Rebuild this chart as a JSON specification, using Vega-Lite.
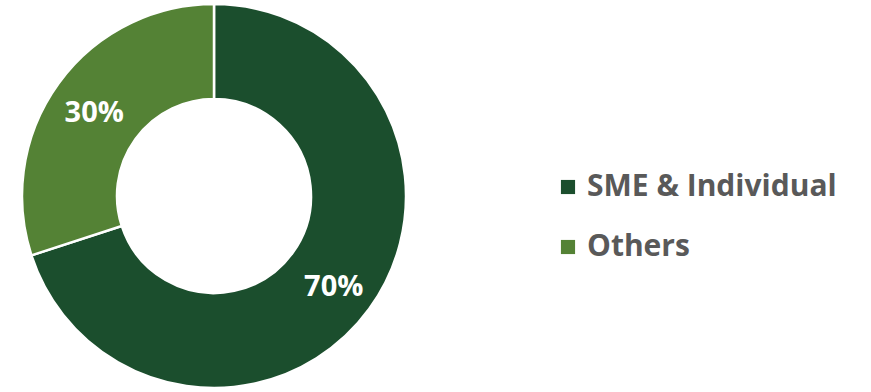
{
  "$schema": "https://vega.github.io/schema/vega-lite/v6.json",
  "width": 428,
  "height": 392,
  "padding": {"left": 0, "top": 0, "bottom": 0, "right": 443},
  "autosize": {"type": "none"},
  "background": "white",
  "config": {"view": {"stroke": null}},
  "data": {"values": [
    {"segment": "SME & Individual", "value": 70, "label": "70%"},
    {"segment": "Others", "value": 30, "label": "30%"}
  ]},
  "encoding": {
    "theta": {"field": "value", "type": "quantitative", "stack": true},
    "order": {"field": "value", "sort": "descending"},
    "color": {
      "field": "segment", "type": "nominal",
      "scale": {"domain": ["SME & Individual", "Others"], "range": ["#1b4e2d", "#548235"]},
      "legend": {
        "title": null, "orient": "none", "legendX": 553, "legendY": 172,
        "symbolType": "square", "symbolSize": 200, "symbolStrokeWidth": 0,
        "labelFont": "Open Sans", "labelFontWeight": "bold", "labelFontSize": 30,
        "labelColor": "#595959", "rowPadding": 30, "labelOffset": 4, "labelLimit": 400
      }
    }
  },
  "layer": [
    {"mark": {"type": "arc", "outerRadius": 192, "innerRadius": 97, "stroke": "white", "strokeWidth": 2.5}},
    {"mark": {"type": "text", "radius": 148, "dy": 4, "fill": "white", "font": "Open Sans", "fontWeight": "bold", "fontSize": 29},
     "encoding": {"text": {"field": "label"}, "color": {"value": "white"}}}
  ]
}
